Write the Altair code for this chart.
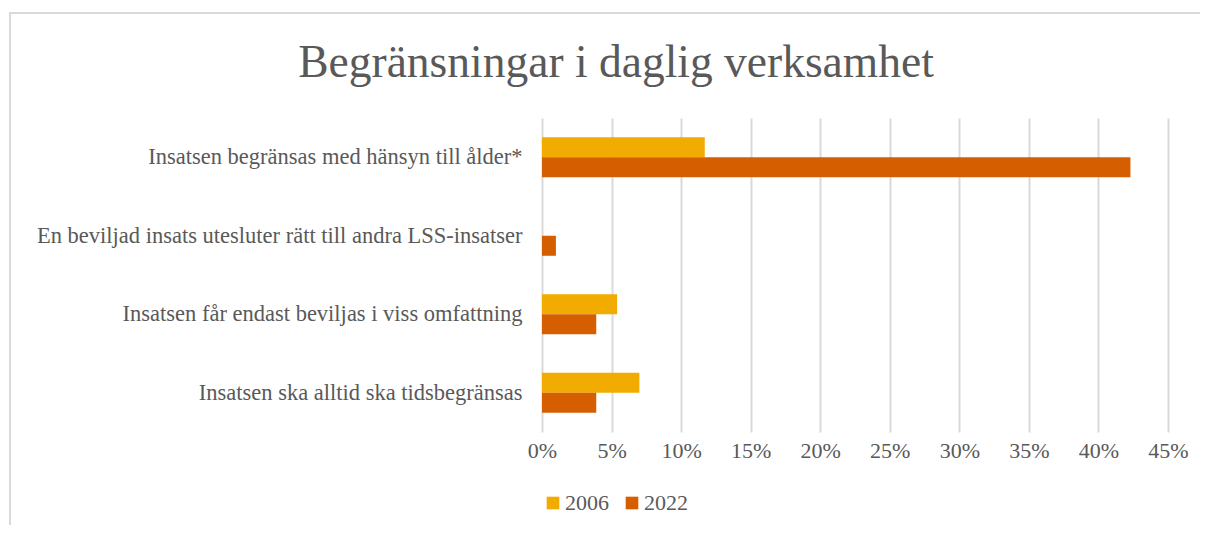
import altair as alt
import pandas as pd

title_text = "Begränsningar i daglig verksamhet"
categories = [
    "Insatsen begränsas med hänsyn till ålder*",
    "En beviljad insats utesluter rätt till andra LSS-insatser",
    "Insatsen får endast beviljas i viss omfattning",
    "Insatsen ska alltid ska tidsbegränsas",
]
years = ["2006", "2022"]
values_2006 = [11.7, 0.0, 5.4, 7.0]
values_2022 = [42.3, 1.0, 3.9, 3.9]
x_ticks = [0, 5, 10, 15, 20, 25, 30, 35, 40, 45]

rows = []
for c, v in zip(categories, values_2006):
    rows.append({"cat": c, "year": "2006", "val": v / 100})
for c, v in zip(categories, values_2022):
    rows.append({"cat": c, "year": "2022", "val": v / 100})
df = pd.DataFrame(rows)

FONT = "Liberation Serif"
GRAY = "#595959"
FS = 22.5

bars = alt.Chart(df).mark_bar().encode(
    x=alt.X("val:Q",
            scale=alt.Scale(domain=[0, 0.45], nice=False),
            axis=alt.Axis(values=[t / 100 for t in x_ticks], format=".0%",
                          title=None, domain=False, ticks=False,
                          grid=True, gridColor="#D9D9D9", gridWidth=2,
                          labelFlush=False, labelOverlap=False,
                          labelFont=FONT, labelFontSize=22, labelColor=GRAY,
                          labelPadding=8)),
    y=alt.Y("cat:N", sort=categories,
            scale=alt.Scale(paddingInner=0.49, paddingOuter=0.245),
            axis=alt.Axis(title=None, domain=False, ticks=False,
                          labelFont=FONT, labelFontSize=FS, labelColor=GRAY,
                          labelPadding=20, labelLimit=520)),
    yOffset=alt.YOffset("year:N", sort=years, scale=alt.Scale(paddingInner=0, paddingOuter=0)),
    color=alt.Color("year:N", sort=years,
                    scale=alt.Scale(domain=years, range=["#F2AB00", "#D55E00"]),
                    legend=alt.Legend(title=None, orient="none", direction="horizontal",
                                      legendX=0, legendY=374,
                                      symbolType="square", symbolSize=160,
                                      symbolStrokeWidth=0,
                                      labelFont=FONT, labelFontSize=22, labelColor=GRAY,
                                      columnPadding=12, labelOffset=1)),
)

border = alt.Chart(pd.DataFrame({"a": [0]})).mark_rect(
    fill=None, stroke="#D9D9D9", strokeWidth=2
).encode(
    x=alt.value(-532), x2=alt.value(720),
    y=alt.value(-105), y2=alt.value(500),
)

title = alt.Chart(pd.DataFrame({"t": [title_text]})).mark_text(
    font=FONT, fontSize=45.5, color=GRAY, align="center", baseline="alphabetic"
).encode(
    text="t:N", x=alt.value(74), y=alt.value(-41),
)

chart = alt.layer(border, title, bars).properties(
    width=626, height=314,
    autosize=alt.AutoSizeParams(type="none"),
    padding={"left": 534, "top": 110, "right": 32, "bottom": 93},
).configure_view(stroke=None)

chart.save("out.html", embed_options={"renderer": "svg", "actions": False})
